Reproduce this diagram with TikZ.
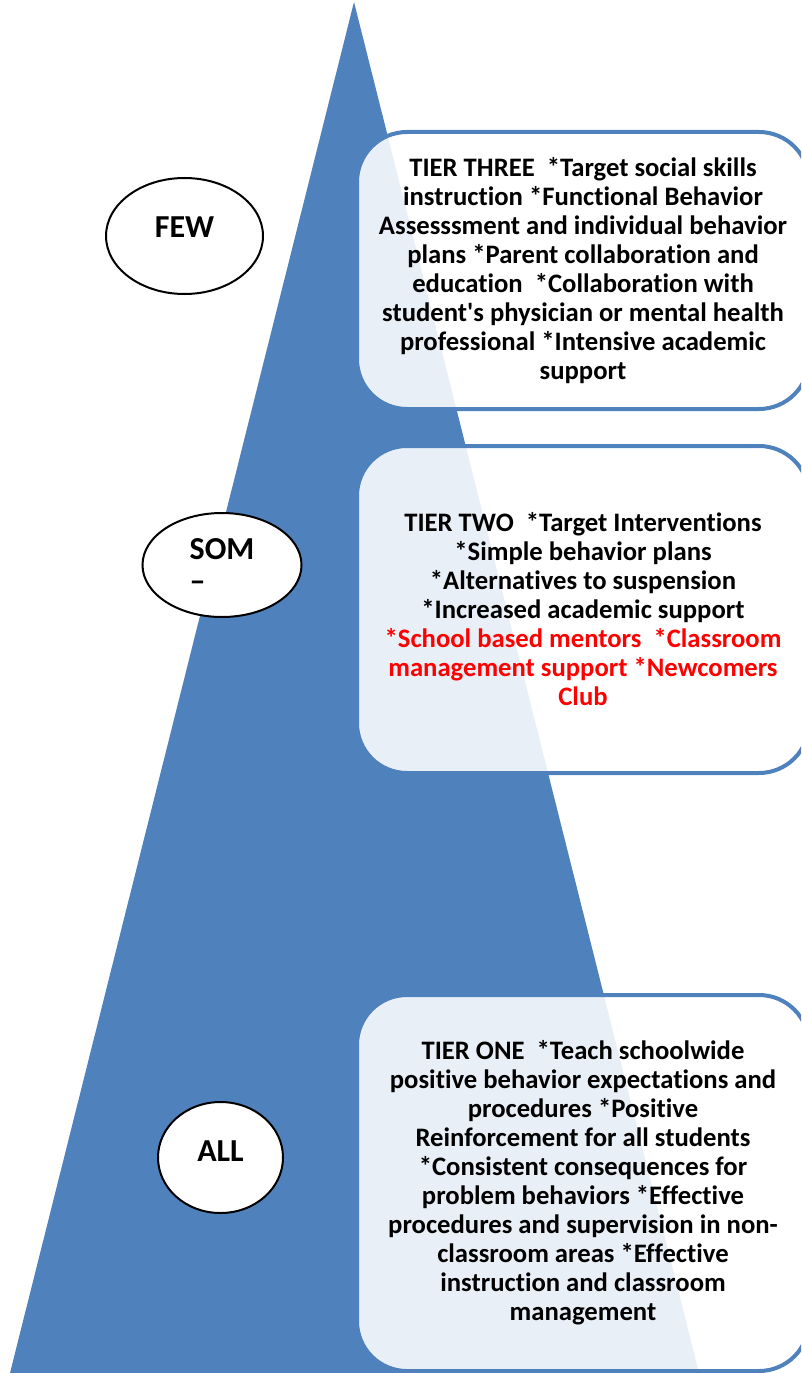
\documentclass[tikz,border=0pt]{standalone}
\usepackage{fontspec}
\setmainfont{Carlito}[Ligatures={TeX,NoCommon}]
\usepackage{xcolor}
\usepackage{tikz}
\usetikzlibrary{shapes.geometric}

\definecolor{tierblue}{RGB}{79,129,189}

\begin{document}
\begin{tikzpicture}[
          x=0.75pt, y=-0.75pt,
          every node/.style={font=\fontsize{20}{21.75}\selectfont\bfseries},
          tier/.style={draw=tierblue, line width=3pt, fill=white, fill opacity=0.88, text opacity=1, rounded corners=37.5pt, minimum width=339pt, align=center, inner sep=0pt},
          group/.style={draw=black, line width=1.5pt, fill=white, ellipse, align=center, inner sep=0pt, font=\fontsize{24}{24}\selectfont\bfseries}
      ]

      \useasboundingbox (0,0) rectangle (801,1373);
      \clip (0,0) rectangle (801,1373);

      % Pyramid
      \fill[tierblue] (354,2) -- (699,1373) -- (10,1373) -- cycle;

      % Tiers
      \node[tier, minimum height=207.75pt] (three) at (583,270.5) {TIER THREE\ \ *Target social skills\\
        instruction *Functional Behavior\\
        Assesssment and individual behavior\\
        plans *Parent collaboration and\\
        education\ \ *Collaboration with\\
        student\textquotesingle s physician or mental health\\
        professional *Intensive academic\\
        support};
      \node[tier, minimum height=245.25pt] (two) at (583,609.5) {TIER TWO\ \ *Target Interventions\\
        *Simple behavior plans\\
        *Alternatives to suspension\\
        *Increased academic support\\
        \textcolor{red}{*School based mentors\ \ *Classroom}\\
        \textcolor{red}{management support *Newcomers}\\
        \textcolor{red}{Club}};
      \node[tier, minimum height=282pt] (one) at (583,1183) {TIER ONE\ \ *Teach schoolwide\\
        positive behavior expectations and\\
        procedures *Positive\\
        Reinforcement for all students\\
        *Consistent consequences for\\
        problem behaviors *Effective\\
        procedures and supervision in non-\\
        classroom areas *Effective\\
        instruction and classroom\\
        management};

      % Groups
      \node[group, minimum width=117.75pt, minimum height=87pt, text depth=13.5pt] (few) at (184.5,236) {FEW};
      \node[group, minimum width=119.25pt, minimum height=78pt, align=left] (some) at (222,565) {SOM\\–};
      \node[group, minimum width=93.75pt, minimum height=83.25pt, text depth=9pt] (all) at (220.5,1157.5) {ALL};

      \end{tikzpicture}
\end{document}
